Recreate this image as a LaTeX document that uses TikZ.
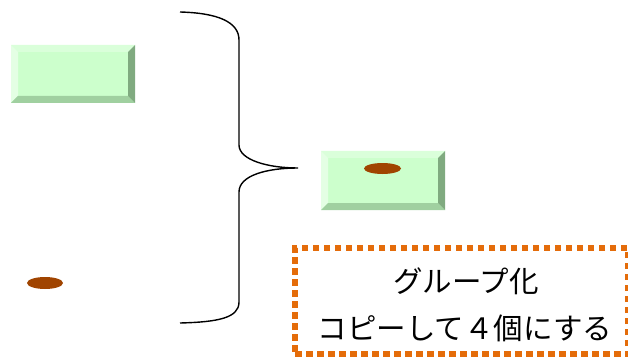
\documentclass[tikz,border=0pt]{standalone}
\usepackage{fontspec}
\newfontfamily\jpfont{Noto Sans CJK JP}
\definecolor{face}{RGB}{204,255,204}
\definecolor{bevtop}{RGB}{218,255,218}
\definecolor{bevleft}{RGB}{228,255,228}
\definecolor{bevbot}{RGB}{160,208,160}
\definecolor{bevright}{RGB}{128,170,128}
\definecolor{dotorange}{RGB}{228,108,10}
\definecolor{brown}{RGB}{160,68,0}
\tikzset{
  spot/.style={fill=brown, draw=none},
  bracepath/.style={draw=black, line width=1.4pt},
  notebox/.style={draw=dotorange, line width=6pt, dash pattern=on 6.5pt off 4.5pt, minimum width=333pt, minimum height=106pt, inner sep=0pt},
  notetext/.style={font=\jpfont\fontsize{29.5}{34}\selectfont, inner sep=0pt}
}
\newcommand{\bevelbox}[4]{% x1 y1 x2 y2
  \fill[face] (#1,#2) rectangle (#3,#4);
  \fill[bevtop] (#1,#2) -- (#3,#2) -- (#3-7,#2+7) -- (#1+7,#2+7) -- cycle;
  \fill[bevleft] (#1,#2) -- (#1+7,#2+7) -- (#1+7,#4-7) -- (#1,#4) -- cycle;
  \fill[bevbot] (#1,#4) -- (#1+7,#4-7) -- (#3-7,#4-7) -- (#3,#4) -- cycle;
  \fill[bevright] (#3,#2) -- (#3,#4) -- (#3-7,#4-7) -- (#3-7,#2+7) -- cycle;
}
\begin{document}
\begin{tikzpicture}[x=1pt,y=-1pt]
\useasboundingbox (0,0) rectangle (628,358);
\bevelbox{11}{45}{135}{103}
\bevelbox{321}{151}{445}{210}
\fill[spot] (382.5,168.5) ellipse [x radius=18.5, y radius=5.5];
\fill[spot] (45,283) ellipse [x radius=18, y radius=6];
\draw[bracepath] (180,12) .. controls (218,13) and (239,22) .. (239,40) -- (239,145)
  .. controls (239,160) and (268,168) .. (298,168)
  .. controls (268,168) and (239,175) .. (239,192) -- (239,302)
  .. controls (239,318) and (218,322) .. (180,323);
\node[notebox] (box) at (461.5,301) {};
\node[notetext] (l1) at (466,281) {グループ化};
\node[notetext] (l2) at (465,328) {コピーして４個にする};
\end{tikzpicture}
\end{document}
